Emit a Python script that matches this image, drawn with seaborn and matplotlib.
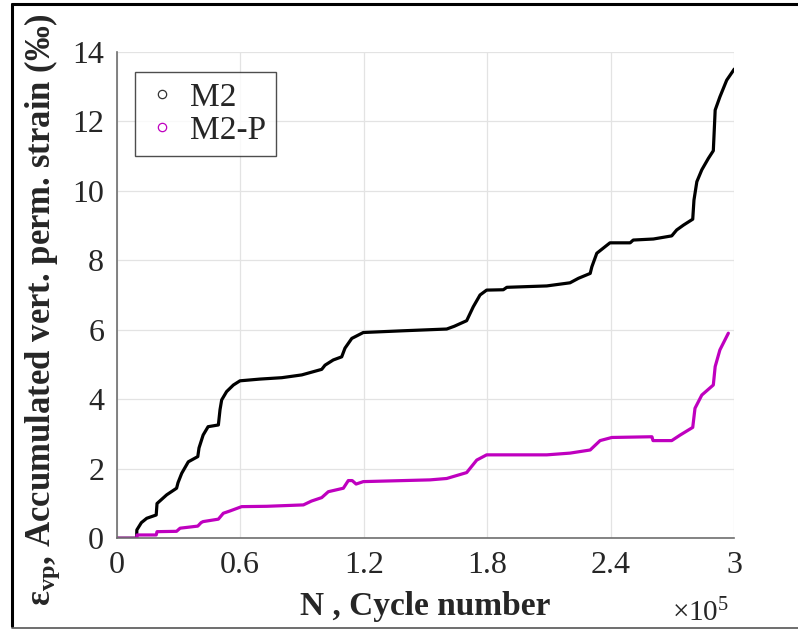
import matplotlib
matplotlib.use("Agg")
import matplotlib.pyplot as plt
from matplotlib.lines import Line2D
from matplotlib.ticker import FixedLocator, FuncFormatter
import numpy as np
import pandas as pd
import seaborn as sns

# Cycle counts (thousands of cycles) and accumulated vertical permanent strain (‰)
m2_kcycles = [0, 9.7, 9.8, 12.0, 14.6, 19.2, 19.6, 24.3, 29.1, 29.8, 31.6, 34.8,
              39.4, 40.0, 42.0, 44.4, 49.4, 50.2, 51.0, 53.4, 56.7, 59.9, 69.6,
              80.2, 89.9, 99.6, 101.2, 105.2, 109.3, 110.9, 114.2, 119.8, 139.2,
              160.3, 164.0, 170.0, 173.2, 176.5, 179.7, 187.8, 189.5, 208.9,
              220.2, 224.3, 230.0, 230.8, 233.2, 239.6, 249.4, 250.9, 260.7,
              269.6, 272.0, 275.3, 279.8, 280.4, 281.8, 284.2, 287.4, 289.8,
              290.7, 293.0, 296.3, 300.0]
m2_strain = [0, 0, 0.24, 0.45, 0.575, 0.67, 1.0, 1.25, 1.44, 1.6, 1.87, 2.2,
             2.35, 2.6, 2.97, 3.21, 3.26, 3.7, 3.98, 4.22, 4.41, 4.53, 4.58,
             4.62, 4.70, 4.86, 4.98, 5.13, 5.22, 5.47, 5.75, 5.92, 5.97,
             6.02, 6.1, 6.26, 6.66, 7.0, 7.14, 7.15, 7.22, 7.26,
             7.35, 7.48, 7.62, 7.81, 8.2, 8.5, 8.5, 8.58, 8.61,
             8.70, 8.87, 9.01, 9.18, 9.73, 10.26, 10.6, 10.93, 11.15,
             12.32, 12.7, 13.18, 13.5]

m2p_kcycles = [0, 9.7, 9.9, 19.2, 19.6, 29.1, 30.8, 39.4, 41.0, 42.0, 49.4,
               51.8, 55.0, 60.7, 72.9, 90.7, 94.6, 99.6, 102.8, 110.1, 112.5,
               114.4, 116.3, 119.8, 152.2, 160.3, 170.0, 174.9, 179.7, 208.9,
               220.2, 230.0, 234.8, 240.5, 259.1, 260.0, 260.5, 269.6, 273.7,
               279.8, 280.9, 284.2, 289.8, 290.7, 293.0, 297.1]
m2p_strain = [0, 0, 0.095, 0.095, 0.19, 0.2, 0.29, 0.35, 0.45, 0.48, 0.55,
              0.72, 0.785, 0.91, 0.92, 0.96, 1.07, 1.17, 1.34, 1.44, 1.66,
              1.66, 1.56, 1.63, 1.68, 1.72, 1.89, 2.25, 2.4, 2.4,
              2.45, 2.54, 2.81, 2.9, 2.92, 2.92, 2.81, 2.81, 2.97,
              3.19, 3.74, 4.12, 4.41, 4.94, 5.42, 5.9]

series_names = ["M2", "M2-P"]
series_colors = ["#000000", "#bf00bf"]
x_ticks = [0, 0.6e5, 1.2e5, 1.8e5, 2.4e5, 3e5]
y_ticks = [0, 2, 4, 6, 8, 10, 12, 14]

df = pd.concat([
    pd.DataFrame({"N": np.array(m2_kcycles) * 1e3, "strain": m2_strain,
                  "series": series_names[0]}),
    pd.DataFrame({"N": np.array(m2p_kcycles) * 1e3, "strain": m2p_strain,
                  "series": series_names[1]}),
], ignore_index=True)

sns.set_style("white")
plt.rcParams["font.family"] = ["Liberation Serif", "DejaVu Serif"]
plt.rcParams["mathtext.fontset"] = "custom"
plt.rcParams["mathtext.rm"] = "Liberation Serif"
plt.rcParams["mathtext.bf"] = "Liberation Serif:bold"
plt.rcParams["mathtext.it"] = "Liberation Serif:italic"

fig = plt.figure(figsize=(7.98, 6.30), dpi=100)
ax = fig.add_axes([0.1462, 0.1456, 0.774, 0.7724])

sns.lineplot(data=df, x="N", y="strain", hue="series", palette=series_colors,
             hue_order=series_names, linewidth=2.3, legend=False, ax=ax,
             sort=False, estimator=None)

ax.set_xlim(0, 3e5)
ax.set_ylim(0, 14)
ax.xaxis.set_major_locator(FixedLocator(x_ticks))
ax.xaxis.set_major_formatter(FuncFormatter(lambda v, p: f"{v / 1e5:g}"))
ax.yaxis.set_major_locator(FixedLocator(y_ticks))

ax.grid(True, color="#e3e3e3", linewidth=0.9)
ax.set_axisbelow(True)
for side in ["top", "right"]:
    ax.spines[side].set_visible(False)
for side in ["left", "bottom"]:
    ax.spines[side].set_color("#6e6e6e")
    ax.spines[side].set_linewidth(1.2)
ax.tick_params(axis="both", direction="in", length=6, width=1.0,
               color="#444444", labelsize=23, labelcolor="#262626", pad=9)

ax.set_xlabel("N , Cycle number", fontsize=24, fontweight="bold")
ax.xaxis.set_label_coords(0.5, -0.108)
ax.set_ylabel(r"ε$_{\mathbf{vp}}$, Accumulated vert. perm. strain (‰)",
              fontsize=25, fontweight="bold")
ax.yaxis.set_label_coords(-0.089, 0.469)
ax.text(0.992, -0.124, r"×10$^{5}$", transform=ax.transAxes, ha="right",
        va="top", fontsize=21, color="#262626")

handles = [Line2D([], [], linestyle="none", marker="o", markersize=6,
                  markerfacecolor="none", markeredgecolor=c, markeredgewidth=0.9)
           for c in ["#333333", "#bf00bf"]]
leg = ax.legend(handles, series_names, loc="upper left",
                bbox_to_anchor=(0.0296, 0.958), borderaxespad=0, fontsize=24,
                frameon=True, fancybox=False, handlelength=1.0,
                handletextpad=0.35, labelspacing=0.08, borderpad=0.3)
leg.get_frame().set_edgecolor("#222222")
leg.get_frame().set_linewidth(1.0)

# outer frame around the figure
for xs, ys, lw, col in [([12 / 798, 12 / 798], [4 / 630, 626 / 630], 2.2, "black"),
                        ([12 / 798, 1.0], [626 / 630, 626 / 630], 2.2, "black"),
                        ([12 / 798, 1.0], [2 / 630, 2 / 630], 1.2, "#555555")]:
    fig.add_artist(Line2D(xs, ys, transform=fig.transFigure, color=col,
                          linewidth=lw))

fig.savefig("out.png", dpi=100)
